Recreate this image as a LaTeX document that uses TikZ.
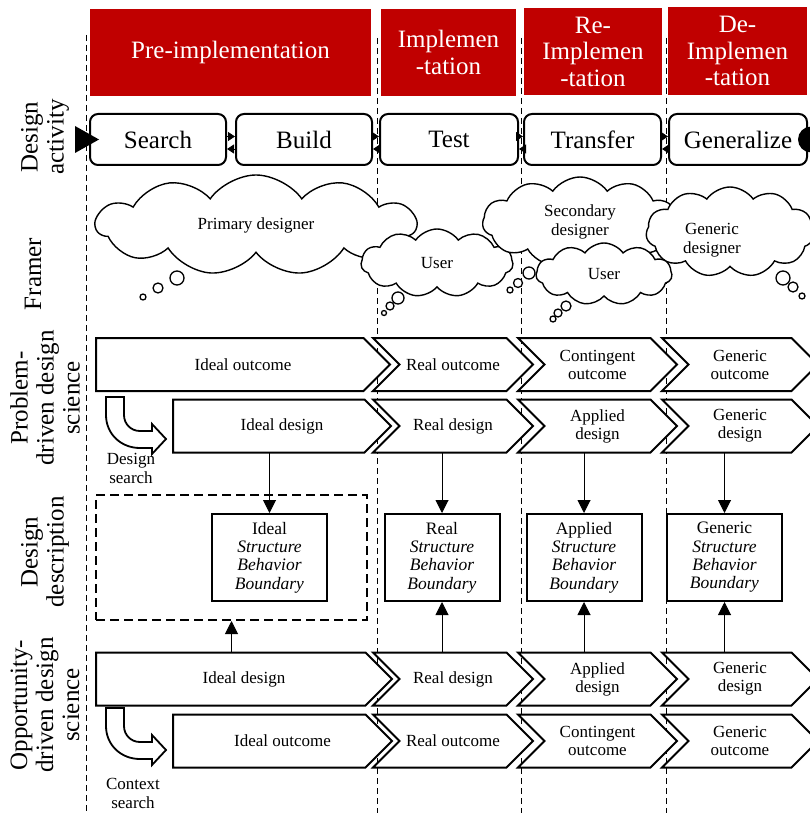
\documentclass[tikz,border=0pt]{standalone}
\usepackage{fontspec}
\setmainfont{Liberation Serif}
\usetikzlibrary{shapes.symbols,arrows.meta}
\definecolor{phasered}{HTML}{C00000}
\pgfdeclarelayer{back}
\pgfdeclarelayer{mid}
\pgfsetlayers{back,mid,main}

\begin{document}
\begin{tikzpicture}[x=1pt, y=-1pt,
  phase/.style={fill=phasered, text=white, inner sep=0pt, align=center,
    font=\fontsize{25}{26.5}\selectfont},
  act/.style={draw, line width=2pt, rounded corners=8pt, minimum height=51pt,
    inner sep=0pt, font=\fontsize{25}{27}\selectfont},
  rowlab/.style={rotate=90, align=center, inner sep=0pt,
    font=\fontsize{25}{26}\selectfont},
  chev/.style={minimum height=53pt, inner sep=0pt, outer sep=0pt, align=center,
    font=\fontsize{17}{18}\selectfont},
  chevline/.style={draw, fill=white, line width=2pt, line join=miter},
  desc/.style={draw, fill=white, line width=2pt, minimum width=115pt,
    minimum height=87pt, inner sep=0pt, align=center,
    font=\fontsize{17.5}{18.3}\selectfont},
  thought/.style={cloud, draw, fill=white, line width=1.4pt, cloud puffs=11,
    cloud puff arc=110, cloud ignores aspect, align=center, inner sep=0pt,
    font=\fontsize{17}{19}\selectfont},
  puff/.style={circle, draw, fill=white, line width=1.3pt, inner sep=0pt},
  small/.style={align=center, inner sep=0pt, font=\fontsize{17}{19}\selectfont},
  flow/.style={line width=1pt, -{Triangle[length=13pt, width=13pt]}},
  tick/.style={line width=0.8pt, -{Triangle[length=7pt, width=9pt]}},
  phaseline/.style={dash pattern=on 6pt off 4pt, line width=0.9pt}]

\clip (0,0) rectangle (810,813);

% phase borders
\begin{pgfonlayer}{back}
\fill[white] (0,0) rectangle (810,813);
\draw[phaseline] (86,35) -- (86,813);
\foreach \x in {377,521,666}
  \draw[phaseline] (\x,38) -- (\x,813);
\end{pgfonlayer}

% phases
\node[phase, minimum width=281pt, minimum height=87pt] (pre) at (230.5,52.5) {Pre-implementation};
\node[phase, minimum width=135pt, minimum height=87pt] (imp) at (448.5,52.5) {Implemen\\-tation};
\node[phase, minimum width=138pt, minimum height=87pt] (reimp) at (593,51.5) {Re-\\Implemen\\-tation};
\node[phase, minimum width=139pt, minimum height=88pt] (deimp) at (737.5,51) {De-\\Implemen\\-tation};

% row labels
\node[rowlab] (lact) at (45,137) {Design\\activity};
\node[rowlab] (lfra) at (33,274) {Framer};
\node[rowlab] (lprob) at (45,398) {Problem-\\driven design\\science};
\node[rowlab] (ldesc) at (45,552) {Design\\description};
\node[rowlab] (lopp) at (45,705) {Opportunity-\\driven design\\science};

% design activity
\node[act, minimum width=136pt] (search) at (158,139.5) {Search};
\node[act, minimum width=136pt] (build) at (304,139.5) {Build};
\node[act, minimum width=138pt] (test) at (449,139.5) {Test};
\node[act, minimum width=137pt] (transfer) at (592.5,139.5) {Transfer};
\node[act, minimum width=138pt] (general) at (738,139.5) {Generalize};
\fill ([xshift=-14pt,yshift=13.5pt]search.west) -- ([xshift=10pt]search.west)
  -- ([xshift=-14pt,yshift=-13.5pt]search.west) -- cycle;
\fill ([xshift=3pt]general.east) circle (13pt);
\foreach \a/\b in {search/build, build/test, test/transfer, transfer/general} {
  \draw[tick] ([yshift=3pt]\a.east) -- ([yshift=3pt]\b.west);
  \draw[tick] ([yshift=-9.5pt]\b.west) -- ([yshift=-9.5pt]\a.east);
}

% framers
\node[puff, minimum size=14pt] at (177,278) {};
\node[puff, minimum size=10pt] at (158,288) {};
\node[puff, minimum size=6pt] at (143,297) {};
\node[thought, minimum width=320pt, minimum height=100pt] (primary) at (256,225) {Primary designer};
\node[puff, minimum size=12pt] at (398,298) {};
\node[puff, minimum size=8pt] at (390,306) {};
\node[puff, minimum size=5pt] at (384,313) {};
\node[thought, minimum width=152pt, minimum height=68pt] (user) at (437,263) {User};
\node[puff, minimum size=12pt] at (529,273) {};
\node[puff, minimum size=9pt] at (518,283) {};
\node[puff, minimum size=6pt] at (510,290) {};
\node[thought, minimum width=195pt, minimum height=90pt] (second) at (580,222) {Secondary\\designer};
\node[puff, minimum size=14pt] at (783,278) {};
\node[puff, minimum size=10pt] at (793,287) {};
\node[puff, minimum size=6pt] at (802,296) {};
\node[thought, minimum width=168pt, minimum height=90pt,
  label={[small, xshift=-18pt, yshift=-8pt]center:{Generic\\designer}}] (generic) at (730,232) {};
\node[puff, minimum size=10pt] at (566,306) {};
\node[puff, minimum size=8pt] at (558,313) {};
\node[puff, minimum size=6pt] at (553,319) {};
\node[thought, minimum width=136pt, minimum height=62pt] (user2) at (604,274) {User};

% problem-driven design science
\node[chev, minimum width=294pt] (po1) at (243,364.5) {Ideal outcome};
\node[chev, minimum width=160pt] (po2) at (453,364.5) {Real outcome};
\node[chev, minimum width=159pt] (po3) at (597.5,364.5) {Contingent\\outcome};
\node[chev, minimum width=156pt] (po4) at (740,364.5) {Generic\\outcome};
\node[chev, minimum width=218pt] (pd1) at (282,426) {Ideal design};
\node[chev, minimum width=160pt] (pd2) at (453,426) {Real design};
\node[chev, minimum width=159pt] (pd3) at (597.5,426) {Applied\\design};
\node[chev, minimum width=156pt] (pd4) at (740,426) {Generic\\design};

% design description
\node[draw, dash pattern=on 9pt off 5pt, line width=2pt, minimum width=271pt,
  minimum height=125pt] (ideal) at (231.5,557.5) {};
\node[desc] (idealbox) at (269.5,557.5) {Ideal\\\textit{Structure}\\\textit{Behavior}\\\textit{Boundary}};
\node[desc] (realbox) at (442,557.5) {Real\\\textit{Structure}\\\textit{Behavior}\\\textit{Boundary}};
\node[desc] (appbox) at (584,557.5) {Applied\\\textit{Structure}\\\textit{Behavior}\\\textit{Boundary}};
\node[desc] (genbox) at (724.5,557.5) {Generic\\\textit{Structure}\\\textit{Behavior}\\\textit{Boundary}};

% opportunity-driven design science
\node[chev, minimum width=296pt] (od1) at (244,679) {Ideal design};
\node[chev, minimum width=160pt] (od2) at (453,679) {Real design};
\node[chev, minimum width=159pt] (od3) at (597.5,679) {Applied\\design};
\node[chev, minimum width=156pt] (od4) at (740,679) {Generic\\design};
\node[chev, minimum width=219pt] (oo1) at (282.5,741) {Ideal outcome};
\node[chev, minimum width=160pt] (oo2) at (453,741) {Real outcome};
\node[chev, minimum width=159pt] (oo3) at (597.5,741) {Contingent\\outcome};
\node[chev, minimum width=156pt] (oo4) at (740,741) {Generic\\outcome};

% chevron outlines
\begin{pgfonlayer}{mid}
\foreach \n in {po1,pd1,od1,oo1}
  \draw[chevline] (\n.north west) -- ([xshift=-26.5pt]\n.north east) -- (\n.east)
    -- ([xshift=-26.5pt]\n.south east) -- (\n.south west) -- cycle;
\foreach \n in {po2,po3,po4,pd2,pd3,pd4,od2,od3,od4,oo2,oo3,oo4}
  \draw[chevline] (\n.north west) -- ([xshift=-26.5pt]\n.north east) -- (\n.east)
    -- ([xshift=-26.5pt]\n.south east) -- (\n.south west)
    -- ([xshift=26.5pt]\n.west) -- cycle;
\end{pgfonlayer}

\draw[flow] (pd1.south -| idealbox.north) -- (idealbox.north);
\draw[flow] (pd2.south -| realbox.north) -- (realbox.north);
\draw[flow] (pd3.south -| appbox.north) -- (appbox.north);
\draw[flow] (pd4.south -| genbox.north) -- (genbox.north);
\draw[flow] (od1.north -| ideal.south) -- (ideal.south);
\draw[flow] (od2.north -| realbox.south) -- (realbox.south);
\draw[flow] (od3.north -| appbox.south) -- (appbox.south);
\draw[flow] (od4.north -| genbox.south) -- (genbox.south);

% search arrows
\foreach \dy in {0,311}
  \draw[line width=1.8pt, shift={(0,\dy)}] (106,397) -- (124,397) -- (124,415)
    .. controls (124,424) and (131,431) .. (140,431) -- (152,431) -- (152,424)
    -- (166,439) -- (152,454) -- (152,448) -- (140,448)
    .. controls (121,448) and (106,434) .. (106,415) -- cycle;
\node[small] (dsearch) at (131,468) {Design\\search};
\node[small] (csearch) at (133,793) {Context\\search};
\end{tikzpicture}
\end{document}
